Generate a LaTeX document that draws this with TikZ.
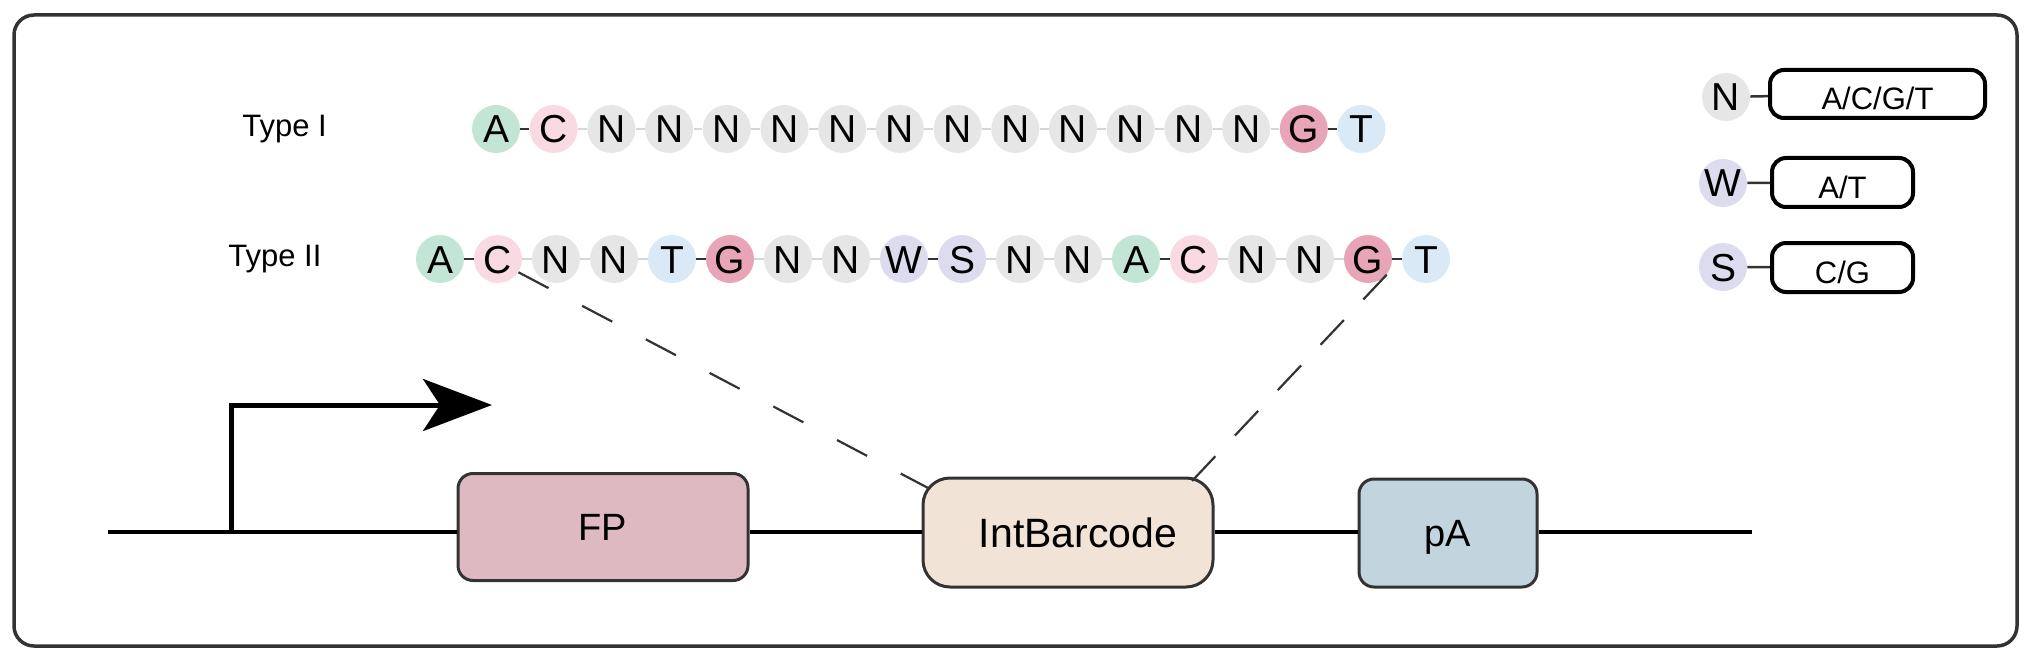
\documentclass[tikz,border=0pt]{standalone}
\usepackage{fontspec}
\setmainfont{Liberation Sans}
\usetikzlibrary{arrows.meta}

\newlength{\du}
\setlength{\du}{0.5pt}

\tikzset{
  nt/.style={circle, minimum size=48\du, inner sep=0pt,
    font=\fontsize{19.5pt}{19.5pt}\selectfont, text height=14pt, text depth=0pt},
  lnk/.style={draw=linkgray, line width=1.5\du},
  bond/.style={draw=darkline, line width=2.2\du},
  part/.style={draw=partline, line width=3\du, rounded corners=15\du, inner sep=0pt,
    font=\fontsize{19pt}{19pt}\selectfont, text height=13.6pt, text depth=0pt},
  keybox/.style={draw=black, line width=4\du, rounded corners=14\du, inner sep=0pt,
    font=\fontsize{15.5pt}{15.5pt}\selectfont, text height=16pt, text depth=0pt},
  typelabel/.style={inner sep=0pt, anchor=base west, font=\fontsize{15.5pt}{15.5pt}\selectfont},
  zoomline/.style={draw=darkline, line width=2.2\du},
}

\begin{document}
\begin{tikzpicture}
\pgftransformxscale{1.000000}
\pgftransformyscale{-1.000000}
\definecolor{acol}{rgb}{0.765, 0.898, 0.839}
\definecolor{ccol}{rgb}{0.976, 0.851, 0.886}
\definecolor{ncol}{rgb}{0.902, 0.902, 0.902}
\definecolor{gcol}{rgb}{0.910, 0.647, 0.718}
\definecolor{tcol}{rgb}{0.851, 0.914, 0.965}
\definecolor{wcol}{rgb}{0.863, 0.863, 0.933}
\definecolor{linkgray}{rgb}{0.840, 0.840, 0.840}
\definecolor{darkline}{rgb}{0.200, 0.200, 0.200}
\definecolor{partline}{rgb}{0.200, 0.200, 0.200}
\definecolor{fpcol}{rgb}{0.875, 0.725, 0.757}
\definecolor{bccol}{rgb}{0.945, 0.894, 0.839}
\definecolor{pacol}{rgb}{0.761, 0.831, 0.871}
\useasboundingbox (0\du,0\du) rectangle (2032\du,663\du);
% frame
\draw[draw=darkline, line width=3.5\du, rounded corners=20\du] (14\du,15\du) rectangle (2017\du,646\du);
% labels
\node[typelabel] (type1) at (242\du,137\du){Type I};
\node[typelabel] (type2) at (228\du,266\du){Type II};
% type I
\node[nt, fill=acol] (r1c1) at (496.0\du,129\du){A};
\node[nt, fill=ccol] (r1c2) at (553.7\du,129\du){C};
\node[nt, fill=ncol] (r1c3) at (611.4\du,129\du){N};
\node[nt, fill=ncol] (r1c4) at (669.1\du,129\du){N};
\node[nt, fill=ncol] (r1c5) at (726.8\du,129\du){N};
\node[nt, fill=ncol] (r1c6) at (784.5\du,129\du){N};
\node[nt, fill=ncol] (r1c7) at (842.2\du,129\du){N};
\node[nt, fill=ncol] (r1c8) at (899.9\du,129\du){N};
\node[nt, fill=ncol] (r1c9) at (957.6\du,129\du){N};
\node[nt, fill=ncol] (r1c10) at (1015.3\du,129\du){N};
\node[nt, fill=ncol] (r1c11) at (1073.0\du,129\du){N};
\node[nt, fill=ncol] (r1c12) at (1130.7\du,129\du){N};
\node[nt, fill=ncol] (r1c13) at (1188.4\du,129\du){N};
\node[nt, fill=ncol] (r1c14) at (1246.1\du,129\du){N};
\node[nt, fill=gcol] (r1c15) at (1303.8\du,129\du){G};
\node[nt, fill=tcol] (r1c16) at (1361.5\du,129\du){T};
\draw[bond] (r1c1) -- (r1c2);
\draw[lnk] (r1c2) -- (r1c3);
\draw[lnk] (r1c3) -- (r1c4);
\draw[lnk] (r1c4) -- (r1c5);
\draw[lnk] (r1c5) -- (r1c6);
\draw[lnk] (r1c6) -- (r1c7);
\draw[lnk] (r1c7) -- (r1c8);
\draw[lnk] (r1c8) -- (r1c9);
\draw[lnk] (r1c9) -- (r1c10);
\draw[lnk] (r1c10) -- (r1c11);
\draw[lnk] (r1c11) -- (r1c12);
\draw[lnk] (r1c12) -- (r1c13);
\draw[lnk] (r1c13) -- (r1c14);
\draw[lnk] (r1c14) -- (r1c15);
\draw[bond] (r1c15) -- (r1c16);
% type II
\node[nt, fill=acol] (r2c1) at (440\du,259\du){A};
\node[nt, fill=ccol] (r2c2) at (498\du,259\du){C};
\node[nt, fill=ncol] (r2c3) at (556\du,259\du){N};
\node[nt, fill=ncol] (r2c4) at (614\du,259\du){N};
\node[nt, fill=tcol] (r2c5) at (672\du,259\du){T};
\node[nt, fill=gcol] (r2c6) at (730\du,259\du){G};
\node[nt, fill=ncol] (r2c7) at (788\du,259\du){N};
\node[nt, fill=ncol] (r2c8) at (846\du,259\du){N};
\node[nt, fill=wcol] (r2c9) at (904\du,259\du){W};
\node[nt, fill=wcol] (r2c10) at (962\du,259\du){S};
\node[nt, fill=ncol] (r2c11) at (1020\du,259\du){N};
\node[nt, fill=ncol] (r2c12) at (1078\du,259\du){N};
\node[nt, fill=acol] (r2c13) at (1136\du,259\du){A};
\node[nt, fill=ccol] (r2c14) at (1194\du,259\du){C};
\node[nt, fill=ncol] (r2c15) at (1252\du,259\du){N};
\node[nt, fill=ncol] (r2c16) at (1310\du,259\du){N};
\node[nt, fill=gcol] (r2c17) at (1368\du,259\du){G};
\node[nt, fill=tcol] (r2c18) at (1426\du,259\du){T};
\draw[bond] (r2c1) -- (r2c2);
\draw[lnk] (r2c2) -- (r2c3);
\draw[lnk] (r2c3) -- (r2c4);
\draw[lnk] (r2c4) -- (r2c5);
\draw[bond] (r2c5) -- (r2c6);
\draw[lnk] (r2c6) -- (r2c7);
\draw[lnk] (r2c7) -- (r2c8);
\draw[lnk] (r2c8) -- (r2c9);
\draw[bond] (r2c9) -- (r2c10);
\draw[lnk] (r2c10) -- (r2c11);
\draw[lnk] (r2c11) -- (r2c12);
\draw[lnk] (r2c12) -- (r2c13);
\draw[bond] (r2c13) -- (r2c14);
\draw[lnk] (r2c14) -- (r2c15);
\draw[lnk] (r2c15) -- (r2c16);
\draw[lnk] (r2c16) -- (r2c17);
\draw[bond] (r2c17) -- (r2c18);
% legend
\node[nt, fill=ncol] (keyn) at (1726\du,97\du){N};
\node[nt, fill=wcol] (keyw) at (1723\du,183\du){W};
\node[nt, fill=wcol] (keys) at (1723\du,267\du){S};
\node[keybox, minimum width=215\du, minimum height=48\du] (keynb) at (1877.5\du,94\du){A/C/G/T};
\node[keybox, minimum width=141\du, minimum height=49\du] (keywb) at (1842.5\du,182.5\du){A/T};
\node[keybox, minimum width=141\du, minimum height=49\du] (keysb) at (1842.5\du,267.5\du){C/G};
\draw[bond, line width=2.5\du] (keyn) -- (keynb);
\draw[bond, line width=2.5\du] (keyw) -- (keywb);
\draw[bond, line width=2.5\du] (keys) -- (keysb);
% construct
\coordinate (lstart) at (108\du,532\du);
\coordinate (lend) at (1752\du,532\du);
\coordinate (tss) at (231\du,532\du);
\coordinate (tip) at (492\du,405\du);
\node[part, fill=fpcol, minimum width=290\du, minimum height=107\du] (fp) at (603\du,527\du){FP};
\node[part, fill=bccol, rounded corners=27\du, minimum width=290\du, minimum height=109\du,
  font=\fontsize{20.5pt}{20.5pt}\selectfont, text height=14.7pt] (bc) at (1068\du,532.5\du){\hspace*{20\du}IntBarcode};
\node[part, fill=pacol, minimum width=178\du, minimum height=108\du] (pa) at (1448\du,533\du){pA};
\draw[draw=black, line width=4\du] (lstart) -- (fp.west |- lstart);
\draw[draw=black, line width=4\du] (fp.east |- lstart) -- (bc.west |- lstart);
\draw[draw=black, line width=4\du] (bc.east |- lstart) -- (pa.west |- lstart);
\draw[draw=black, line width=4\du] (pa.east |- lstart) -- (lend);
% promoter
\draw[draw=black, line width=5\du, -{Stealth[length=34.5pt, width=26pt, inset=8.5pt]}] (tss) |- (tip);
% zoom lines
\coordinate (bcleft) at (930\du,489\du);
\coordinate (bcright) at (1192\du,481\du);
\draw[zoomline, dash pattern=on 17pt off 19pt] (r2c2.-33) -- (bcleft);
\draw[zoomline, dash pattern=on 17pt off 14.2pt] (r2c17.-40) -- (bcright);
\end{tikzpicture}
\end{document}
